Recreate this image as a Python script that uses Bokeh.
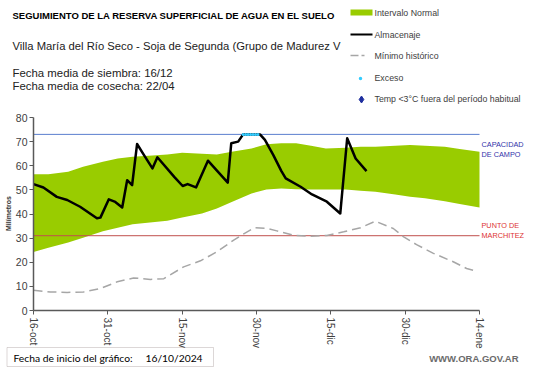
import math
from bokeh.plotting import figure
from bokeh.models import FixedTicker, Label, BoxAnnotation, Range1d
from bokeh.embed import file_html
from bokeh.resources import INLINE

# ---------------- data (days since 16-oct-2024) ----------------
band_days = [0, 3, 7, 10, 14, 17, 20, 24, 27, 30, 34, 37, 40, 44, 47, 50, 53, 56, 59, 63, 66, 69, 73, 76, 79, 83, 86, 90]
band_upper = [56.5, 56.5, 57.5, 59.6, 61.7, 63.0, 63.7, 64.2, 64.7, 65.4, 65.0, 64.7, 65.8, 67.2, 68.9, 69.3, 69.3, 68.3, 67.2, 67.5, 67.9, 67.9, 68.3, 68.6, 68.3, 67.9, 66.9, 65.8]
band_lower = [24.3, 26.0, 28.2, 30.2, 32.8, 34.3, 35.8, 36.6, 37.2, 38.6, 40.2, 42.3, 45.0, 48.5, 50.2, 50.6, 50.3, 50.2, 50.2, 50.2, 49.6, 49.2, 48.1, 47.1, 46.5, 45.3, 44.1, 42.7]

alm_days = [0, 2, 4.7, 6.8, 9.4, 12.8, 13.5, 15.2, 16.5, 17.9, 18.9, 19.9, 20.9, 22.3, 24, 25, 28.4, 30.1, 31.1, 32.8, 35.2, 39.2, 39.9, 41.3, 42.3, 45.7, 46.7, 48.4, 50, 50.9, 53.9, 56.2, 59.2, 61.9, 63.3, 65, 67.2]
alm_values = [52.4, 51.0, 47.1, 45.8, 43.0, 38.2, 38.5, 46.1, 45.0, 42.7, 54.0, 52.0, 69.0, 64.4, 58.9, 63.5, 55.4, 51.6, 52.4, 51.0, 62.1, 53.0, 69.3, 70.0, 73.0, 73.0, 70.7, 64.4, 57.9, 54.8, 51.3, 48.1, 45.1, 40.2, 71.4, 63.0, 57.8]

min_days = [0, 3.4, 6.8, 10.1, 13.5, 16.9, 20.2, 23.6, 26.3, 30.3, 33.7, 37, 40.4, 42.6, 44.6, 47.1, 49.1, 52.5, 55.9, 59.2, 62.6, 66, 69, 72.6, 74.7, 77.3, 80.7, 84.7, 87.4, 88.7]
min_values = [8.4, 7.7, 7.5, 7.7, 9.1, 11.9, 13.5, 12.9, 13.2, 18.1, 20.6, 24.3, 29.2, 32.0, 34.3, 34.0, 33.0, 31.2, 30.8, 31.1, 32.6, 34.3, 37.0, 34.0, 30.5, 27.3, 23.7, 20.2, 17.4, 16.7]

exceso_days = [42.3, 42.8, 43.3, 43.8, 44.3, 44.8, 45.3]
exceso_values = [73, 73, 73, 73, 73, 73, 73]

capacidad_campo = 73
punto_marchitez = 31

tick_days = [0, 15, 30, 45, 60, 75, 90]
tick_labels = ["16-oct", "31-oct", "15-nov", "30-nov", "15-dic", "30-dic", "14-ene"]
y_ticks = [0, 10, 20, 30, 40, 50, 60, 70, 80]

legend_labels = ["Intervalo Normal", "Almacenaje", "Mínimo histórico", "Exceso",
                 "Temp <3°C fuera del período habitual"]

# ---------------- geometry (page pixels; the page template has no body margin) ----------------
W, H = 541, 368
PAGE0 = 0
PX_DAY = 446 / 90          # px per day
PX_MM = 193 / 80           # px per mm
ORIGIN_X, ORIGIN_Y = 33, 310   # page position of (day 0, 0 mm)

def dx(page_x):
    return (page_x - ORIGIN_X) / PX_DAY

def dy(page_y):
    return (ORIGIN_Y - page_y) / PX_MM

p = figure(width=W, height=H,
           x_range=Range1d(dx(PAGE0), dx(PAGE0 + W)), y_range=Range1d(dy(PAGE0 + H), dy(PAGE0)),
           output_backend="svg", toolbar_location=None,
           min_border=0, min_border_left=0, min_border_right=0, min_border_top=0, min_border_bottom=0)
p.outline_line_color = None
p.xgrid.visible = False
p.ygrid.visible = False

AX = "#595959"
for ax in (p.xaxis[0], p.yaxis[0]):
    ax.fixed_location = 0
    ax.axis_line_color = AX
    ax.axis_line_width = 1.5
    ax.major_tick_line_color = AX
    ax.major_tick_in = 0
    ax.major_tick_out = 4
    ax.minor_tick_line_color = None
    ax.major_label_text_color = "#404040"
    ax.major_label_text_font = "Liberation Sans"

p.xaxis.bounds = (0, 90)
p.xaxis.ticker = FixedTicker(ticks=tick_days)
p.xaxis.major_label_overrides = {d: l for d, l in zip(tick_days, tick_labels)}
p.xaxis.major_label_orientation = "vertical"
p.xaxis.major_label_text_font_size = "10px"
p.xaxis.major_label_standoff = 3

p.yaxis.bounds = (0, 80)
p.yaxis.ticker = FixedTicker(ticks=y_ticks)
p.yaxis.major_label_text_font_size = "10.5px"
p.yaxis.major_label_standoff = 2

# ---------------- glyphs ----------------
GREEN = "#99cc00"
GRAY = "#a6a6a6"
CYAN = "#33ccff"
NAVY = "#1f2f9f"
p.varea(x=band_days, y1=band_lower, y2=band_upper, fill_color=GREEN)
p.line([0, 90], [capacidad_campo, capacidad_campo], line_color="#5b7fcf", line_width=1)
p.line([0, 90], [punto_marchitez, punto_marchitez], line_color="#c0504d", line_width=1)
p.line(min_days, min_values, line_color=GRAY, line_width=1.5, line_dash="9 5")
p.line(alm_days, alm_values, line_color="black", line_width=2.5, line_join="round")
p.scatter(exceso_days, exceso_values, marker="circle", size=3, fill_color=CYAN, line_color=None)

# ---------------- texts (placed by page pixel position) ----------------
def txt(x, y, text, size, color="black", style="normal", font="Liberation Sans", align="left", angle=0.0):
    p.add_layout(Label(x=dx(x), y=dy(y), text=text, text_font=font, text_font_size=size,
                       text_color=color, text_font_style=style, text_align=align,
                       text_baseline="middle", angle=angle))

txt(12, 15, "SEGUIMIENTO DE LA RESERVA SUPERFICIAL DE AGUA EN EL SUELO", "9.5px", style="bold")
txt(12, 45, "Villa María del Río Seco - Soja de Segunda (Grupo de Madurez V", "11.25px", color="#222222")
txt(12, 72, "Fecha media de siembra: 16/12", "11.4px", color="#222222")
txt(12, 85, "Fecha media de cosecha: 22/04", "11.4px", color="#222222")

txt(481, 144, "CAPACIDAD", "7.3px", "#3333aa")
txt(481, 154, "DE  CAMPO", "7.3px", "#3333aa")
txt(481, 225, "PUNTO  DE", "7.3px", "#dd3333")
txt(481, 235, "MARCHITEZ", "7.3px", "#dd3333")

txt(8, 213, "Milímetros", "7px", color="#333333", style="bold", align="center", angle=math.pi / 2)

# legend symbols
LX0, LX1, LT = 350, 372, 374
legend_y = [12, 34, 55, 77, 98]
p.quad(left=[dx(LX0)], right=[dx(LX1)], top=[dy(legend_y[0] - 3)], bottom=[dy(legend_y[0] + 3)],
       fill_color=GREEN, line_color=None)
p.line([dx(LX0), dx(LX1)], [dy(legend_y[1])] * 2, line_color="black", line_width=2)
p.line([dx(LX0), dx(LX1 - 8)], [dy(legend_y[2])] * 2, line_color=GRAY, line_width=1.3, line_dash="8 3")
p.scatter([dx(360)], [dy(legend_y[3] + 1)], marker="circle", size=3.5, fill_color=CYAN, line_color=None)
p.scatter([dx(361)], [dy(legend_y[4] + 1)], marker="diamond", size=7, fill_color=NAVY, line_color=NAVY)
for lab, yy in zip(legend_labels, legend_y):
    txt(LT, yy, lab, "8.8px", color="#404040")

# footer
p.add_layout(BoxAnnotation(left=dx(6.5), right=dx(213), top=dy(347), bottom=dy(366),
                           fill_color=None, line_color="#8c7b7b", line_width=1))
txt(13, 357, "Fecha de inicio del gráfico:", "10.3px", font="Lato")
txt(145, 357, "16/10/2024", "10.3px", font="Lato")
txt(518, 358, "WWW.ORA.GOV.AR", "9.5px", color="#6b6b6b", style="bold", align="right")

open("out.html", "w").write(file_html(p, INLINE))
